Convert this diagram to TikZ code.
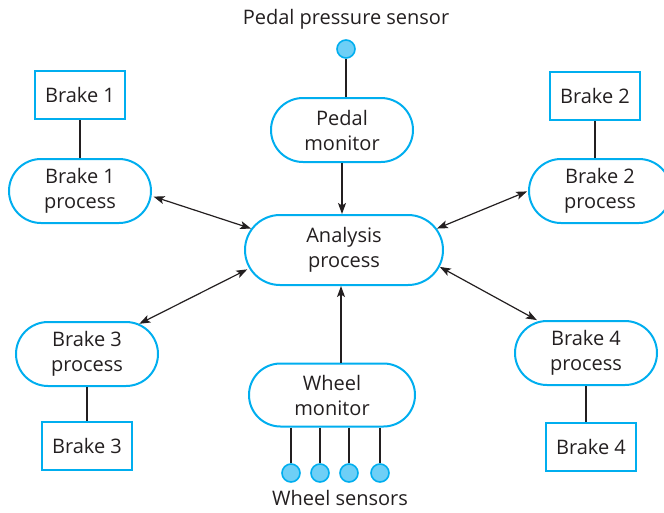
\documentclass[tikz,border=0pt]{standalone}
\usepackage{fontspec}
\setmainfont{Open Sans}
\usepackage{tikz}
\usetikzlibrary{
  calc,          % Coordinate math
  shapes.misc,   % Rounded rectangle (process pills)
  arrows.meta
}
\definecolor{procblue}{RGB}{0,174,239}
\definecolor{sensfill}{RGB}{110,207,246}
\definecolor{ink}{RGB}{35,31,32}

\begin{document}
\begin{tikzpicture}[x=1pt, y=-1pt,
    every node/.style={font=\fontsize{20}{25}\selectfont, text=ink},
    proc/.style={draw=procblue, line width=2pt, rounded rectangle, align=center,
      minimum width=142pt, minimum height=64pt, inner sep=0pt},
    brakebox/.style={draw=procblue, line width=2pt, rectangle,
      minimum width=90pt, minimum height=48pt, inner sep=0pt},
    sensor/.style={draw=procblue, fill=sensfill, line width=1.6pt, circle,
      minimum size=18pt, inner sep=0pt},
    wire/.style={ink, line width=1.2pt},
    flow/.style={wire, -{Stealth[length=11pt, width=8pt, inset=2.5pt]}},
    dflow/.style={wire, {Stealth[length=11pt, width=8pt, inset=2.5pt]}-{Stealth[length=11pt, width=8pt, inset=2.5pt]}}]
      \useasboundingbox (0,0) rectangle (664,512);

      % central analysis and monitors
      \node[proc, minimum width=198pt, minimum height=70pt] (ana) at (344,250) {Analysis\\process};
      \node[proc] (pm) at (342,130) {Pedal\\monitor};
      \node[proc, minimum width=166pt, minimum height=63pt] (wm) at (332,395) {Wheel\\monitor};

      % brake processes and brakes
      \node[proc] (b1p) at (80,191) {Brake 1\\process};
      \node[proc] (b2p) at (600,191) {Brake 2\\process};
      \node[proc] (b3p) at (87,354) {Brake 3\\process};
      \node[proc] (b4p) at (586,353) {Brake 4\\process};
      \node[brakebox] (b1) at (80,95) {Brake 1};
      \node[brakebox] (b2) at (595,96) {Brake 2};
      \node[brakebox] (b3) at (87,446) {Brake 3};
      \node[brakebox] (b4) at (591,447) {Brake 4};

      % sensors
      \node[sensor] (ps) at (346,49) {};
      \node (pslabel) at (346,19) {Pedal pressure sensor};
      \foreach \i/\x in {1/291, 2/320, 3/349, 4/380}
        \node[sensor] (ws\i) at (\x,473) {};
      \node (wslabel) at (340,498) {Wheel sensors};

      % connections
      \draw[wire] (ps) -- (ps |- pm.north);
      \draw[flow] (pm.south) -- (pm.south |- ana.north);
      \coordinate (wmtop) at ($(wm.north)+(9,0)$);
      \draw[flow] (wmtop) -- (wmtop |- ana.south);
      \foreach \i in {1,...,4}
        \draw[wire] (ws\i |- wm.south) -- (ws\i);

      \draw[wire] (b1) -- (b1p);
      \draw[wire] (b2.south) -- (b2.south |- b2p.north);
      \draw[wire] (b3p.south) -- (b3p.south |- b3.north);
      \draw[wire] (b4p.south) -- (b4p.south |- b4.north);

      \draw[dflow, shorten <=2pt] (b1p.-4) -- (ana.167);
      \draw[dflow, shorten >=1pt] (ana.13) -- (b2p.180);
      \draw[dflow, shorten <=2pt] (ana.191) -- (b3p.30);
      \draw[dflow, shorten >=2pt] (ana.350) -- (b4p.146);
  \end{tikzpicture}
\end{document}
